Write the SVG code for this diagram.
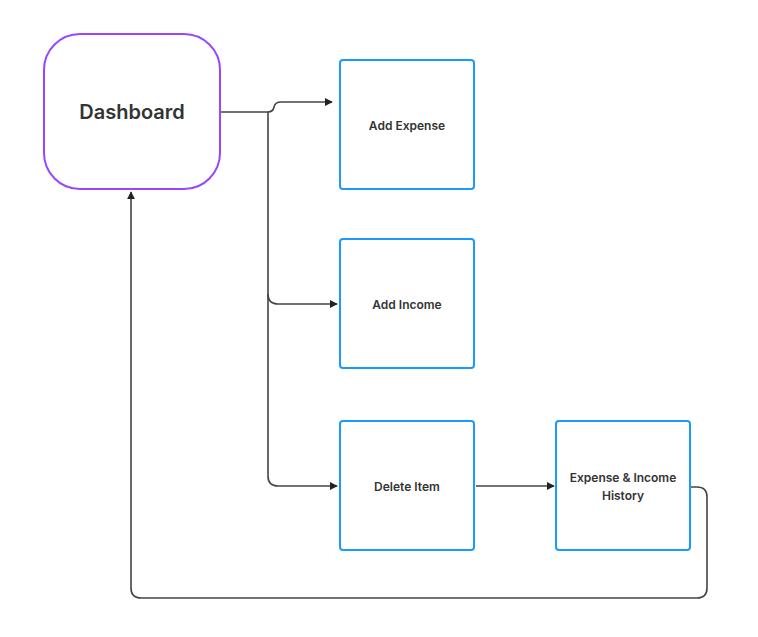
<svg xmlns="http://www.w3.org/2000/svg" width="758" height="637" viewBox="0 0 758 637">
<style>
.dash{fill:#fff;stroke:#9747FF;stroke-width:2}
.box{fill:#fff;stroke:#1A9BFC;stroke-width:2}
.t{font-family:Inter,"Liberation Sans",sans-serif;font-weight:600;fill:#333;text-anchor:middle}
.c{fill:none;stroke:#444;stroke-width:1.6}
</style>
<defs>
<marker id="ah" viewBox="0 0 10 10" refX="9" refY="5" markerWidth="8" markerHeight="8" markerUnits="userSpaceOnUse" orient="auto">
<path d="M0,0 L10,5 L0,10 z" fill="#222"/>
</marker>
</defs>
<rect width="758" height="637" fill="#fff"/>
<g id="connectors">
<path class="c" d="M221,112 L268,112 L268,476 Q268,486 278,486 L337,486" marker-end="url(#ah)"/>
<path class="c" d="M268,112 Q273,112 274,107 Q275,102 281,102 L332,102" marker-end="url(#ah)"/>
<path class="c" d="M268,294 Q268,304 278,304 L337,304" marker-end="url(#ah)"/>
<path class="c" d="M476,486 L554,486" marker-end="url(#ah)"/>
<path class="c" d="M691,487 L697,487 Q707,487 707,497 L707,588 Q707,598 697,598 L141,598 Q131,598 131,588 L131,192" marker-end="url(#ah)"/>
</g>
<g id="dashboard">
<rect class="dash" x="44" y="34" width="176" height="155" rx="36"/>
<text class="t" x="132" y="119" font-size="20">Dashboard</text>
</g>
<g id="add-expense">
<rect class="box" x="340" y="60" width="134" height="129" rx="3"/>
<text class="t" x="407" y="129.5" font-size="12">Add Expense</text>
</g>
<g id="add-income">
<rect class="box" x="340" y="239" width="134" height="129" rx="3"/>
<text class="t" x="407" y="308.5" font-size="12">Add Income</text>
</g>
<g id="delete-item">
<rect class="box" x="340" y="421" width="134" height="129" rx="3"/>
<text class="t" x="407" y="491" font-size="12">Delete Item</text>
</g>
<g id="history">
<rect class="box" x="556" y="421" width="134" height="129" rx="3"/>
<text class="t" x="623" y="482" font-size="12">Expense &amp; Income</text>
<text class="t" x="623" y="500" font-size="12">History</text>
</g>
</svg>
